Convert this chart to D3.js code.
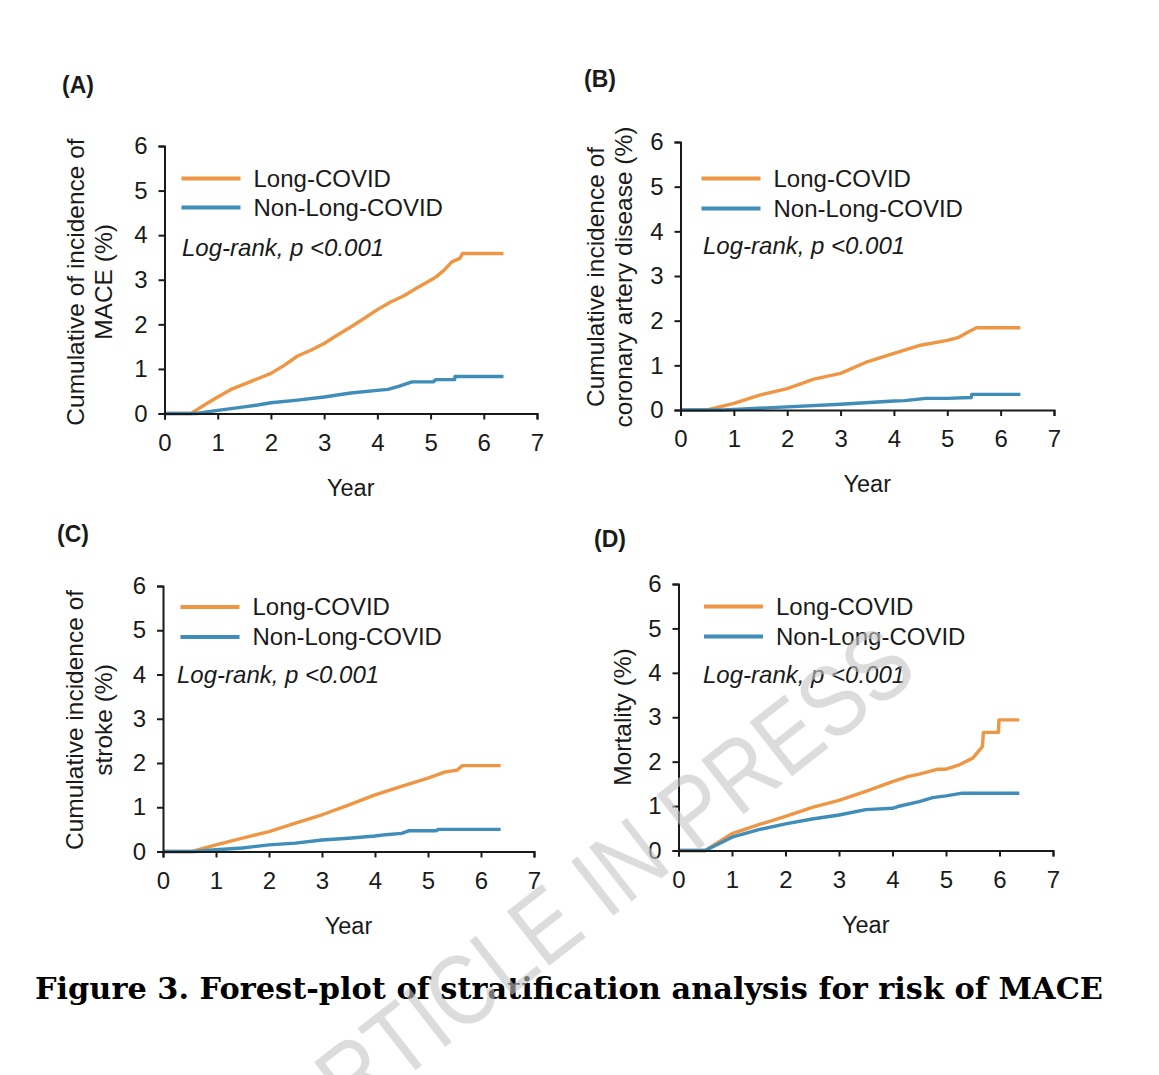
<!DOCTYPE html>
<html>
<head>
<meta charset="utf-8">
<script src="https://cdn.jsdelivr.net/npm/d3@7"></script>
<style>
  body { margin: 0; background: #fff; }
  svg { display: block; }
</style>
</head>
<body>
<svg id="fig" width="1159" height="1075"></svg>
<script>
// axis ticks and legend text
const xTicks = [0, 1, 2, 3, 4, 5, 6, 7];
const yTicks = [0, 1, 2, 3, 4, 5, 6];
const seriesNames = ["Long-COVID", "Non-Long-COVID"];
const pText = "Log-rank, p <0.001";

// cumulative incidence curves, [year, percent]
const maceLong = [[0,0],[0.5,0],[0.75,0.19],[1,0.37],[1.25,0.54],[1.5,0.66],[1.75,0.78],[2,0.9],[2.25,1.08],[2.5,1.29],[2.75,1.42],[3,1.57],[3.25,1.76],[3.5,1.94],[3.75,2.13],[4,2.33],[4.25,2.5],[4.5,2.64],[4.75,2.82],[5,2.99],[5.1,3.06],[5.25,3.21],[5.4,3.4],[5.55,3.48],[5.6,3.59],[6.37,3.59]];
const maceNon = [[0,0],[0.6,0],[1,0.07],[1.5,0.15],[1.75,0.19],[2,0.24],[2.5,0.3],[3,0.37],[3.5,0.46],[4,0.52],[4.2,0.54],[4.4,0.61],[4.65,0.71],[5.05,0.71],[5.1,0.76],[5.45,0.76],[5.46,0.83],[6.37,0.83]];

const cadLong = [[0,0],[0.5,0],[1,0.15],[1.5,0.34],[2,0.48],[2.5,0.69],[3,0.82],[3.5,1.08],[4,1.27],[4.5,1.45],[5,1.56],[5.2,1.62],[5.4,1.75],[5.55,1.84],[6.37,1.84]];
const cadNon = [[0,0],[0.8,0],[1,0.01],[2,0.07],[3,0.13],[4,0.2],[4.2,0.21],[4.6,0.26],[5,0.26],[5.45,0.28],[5.46,0.35],[6.37,0.35]];

const strokeLong = [[0,0],[0.55,0],[1,0.15],[1.5,0.3],[2,0.45],[2.5,0.64],[3,0.83],[3.5,1.05],[4,1.28],[4.5,1.47],[5,1.66],[5.3,1.79],[5.55,1.84],[5.65,1.94],[6.37,1.94]];
const strokeNon = [[0,0],[0.6,0],[1,0.04],[1.5,0.08],[2,0.15],[2.5,0.19],[3,0.26],[3.5,0.3],[4,0.35],[4.2,0.38],[4.5,0.41],[4.65,0.47],[5.15,0.47],[5.2,0.5],[6.37,0.5]];

const deathLong = [[0,0],[0.5,0],[1,0.38],[1.5,0.58],[2,0.77],[2.5,0.97],[3,1.13],[3.5,1.33],[4,1.55],[4.3,1.67],[4.5,1.72],[4.85,1.83],[5,1.83],[5.25,1.93],[5.5,2.08],[5.68,2.34],[5.7,2.66],[5.98,2.66],[5.99,2.94],[6.37,2.94]];
const deathNon = [[0,0],[0.5,0],[1,0.3],[1.5,0.47],[2,0.6],[2.5,0.71],[3,0.8],[3.5,0.92],[4,0.95],[4.1,0.99],[4.5,1.1],[4.75,1.19],[5,1.23],[5.25,1.28],[5.3,1.29],[6.37,1.29]];

const colors = ["#ee9644", "#3f8db8"];
const sans = "'Liberation Sans', Arial, sans-serif";

const panels = [
  { tag: "(A)", tagXY: [62, 93], ylab: ["Cumulative of incidence of", "MACE (%)"], ylabX: [75, 103], ylabY: 282,
    data: [maceLong, maceNon], x0: 164.5, x1: 537, y0: 413.5, y1: 146,
    leg: [181.5, 178.5, 29], pXY: [182, 248] },
  { tag: "(B)", tagXY: [584, 87], ylab: ["Cumulative incidence of", "coronary artery disease (%)"], ylabX: [595, 623], ylabY: 277,
    data: [cadLong, cadNon], x0: 680.5, x1: 1054, y0: 410, y1: 142,
    leg: [701.5, 178.5, 30], pXY: [703, 246] },
  { tag: "(C)", tagXY: [57, 542], ylab: ["Cumulative incidence of", "stroke (%)"], ylabX: [74, 103], ylabY: 720,
    data: [strokeLong, strokeNon], x0: 163, x1: 534, y0: 851.5, y1: 586,
    leg: [180.5, 607, 30], pXY: [177, 675] },
  { tag: "(D)", tagXY: [594, 547], ylab: ["Mortality (%)"], ylabX: [622], ylabY: 717,
    data: [deathLong, deathNon], x0: 678.5, x1: 1053, y0: 850.5, y1: 584,
    leg: [704, 606.5, 30], pXY: [703, 675] }
];

const svg = d3.select("#fig");

panels.forEach(p => {
  const g = svg.append("g");

  const x = d3.scaleLinear().domain([0, 7]).range([p.x0, p.x1]);
  const y = d3.scaleLinear().domain([0, 6]).range([p.y0, p.y1]);

  // curves
  const line = d3.line().x(d => x(d[0])).y(d => y(d[1]));
  p.data.forEach((s, i) => {
    g.append("path")
      .datum(s)
      .attr("fill", "none")
      .attr("stroke", colors[i])
      .attr("stroke-width", 3.4)
      .attr("stroke-linejoin", "round")
      .attr("d", line);
  });

  // axes
  const xAxis = g.append("g")
    .attr("transform", `translate(0,${p.y0})`)
    .call(d3.axisBottom(x).tickValues(xTicks).tickSize(6).tickPadding(14).tickFormat(d3.format("d")));
  const yAxis = g.append("g")
    .attr("transform", `translate(${p.x0},0)`)
    .call(d3.axisLeft(y).tickValues(yTicks).tickSize(6).tickPadding(11).tickFormat(d3.format("d")));

  [xAxis, yAxis].forEach(a => {
    a.attr("font-size", null).attr("font-family", null);
    a.select(".domain").attr("stroke", "#1a1a1a").attr("stroke-width", 2);
    a.selectAll(".tick line").attr("stroke", "#1a1a1a").attr("stroke-width", 2);
    a.selectAll(".tick text")
      .attr("fill", "#1a1a1a")
      .attr("font-family", sans)
      .attr("font-size", 24);
  });

  // x title
  g.append("text")
    .attr("x", (p.x0 + p.x1) / 2)
    .attr("y", p.y0 + 74)
    .attr("dy", "0.35em")
    .attr("text-anchor", "middle")
    .style("font-family", sans)
    .style("font-size", "23.5px")
    .attr("fill", "#1a1a1a")
    .text("Year");

  // y title
  p.ylab.forEach((t, i) => {
    g.append("text")
      .attr("transform", `translate(${p.ylabX[i]},${p.ylabY}) rotate(-90)`)
      .attr("dy", "0.35em")
      .attr("text-anchor", "middle")
      .style("font-family", sans)
      .style("font-size", "24.5px")
      .attr("fill", "#1a1a1a")
      .text(t);
  });

  // panel tag
  g.append("text")
    .attr("x", p.tagXY[0])
    .attr("y", p.tagXY[1])
    .style("font-family", sans)
    .style("font-size", "23px")
    .style("font-weight", "bold")
    .attr("fill", "#1a1a1a")
    .text(p.tag);

  // legend
  const [lx, ly, gap] = p.leg;
  seriesNames.forEach((name, i) => {
    g.append("line")
      .attr("x1", lx).attr("x2", lx + 59)
      .attr("y1", ly + i * gap).attr("y2", ly + i * gap)
      .attr("stroke", colors[i])
      .attr("stroke-width", 3.8);
    g.append("text")
      .attr("x", lx + 72)
      .attr("y", ly + i * gap)
      .attr("dy", "0.35em")
      .style("font-family", sans)
      .style("font-size", "24px")
      .attr("fill", "#1a1a1a")
      .text(name);
  });

  g.append("text")
    .attr("x", p.pXY[0])
    .attr("y", p.pXY[1])
    .attr("dy", "0.35em")
    .style("font-family", sans)
    .style("font-size", "24px")
    .style("font-style", "italic")
    .attr("fill", "#1a1a1a")
    .text(pText);
});

// caption
svg.append("text")
  .attr("x", 35)
  .attr("y", 999)
  .attr("textLength", 1068)
  .attr("lengthAdjust", "spacingAndGlyphs")
  .style("font-family", "'DejaVu Serif', serif")
  .style("font-weight", "bold")
  .style("font-size", "29px")
  .attr("fill", "#000")
  .text("Figure 3. Forest-plot of stratification analysis for risk of MACE");

// watermark
svg.append("text")
  .attr("transform", "translate(592,888) rotate(-38)")
  .attr("text-anchor", "middle")
  .attr("dy", "0.35em")
  .attr("textLength", 780)
  .attr("lengthAdjust", "spacingAndGlyphs")
  .style("font-family", sans)
  .style("font-size", "100px")
  .attr("fill", "#c4c4c4")
  .attr("fill-opacity", 0.6)
  .text("ARTICLE IN PRESS");
</script>
</body>
</html>
